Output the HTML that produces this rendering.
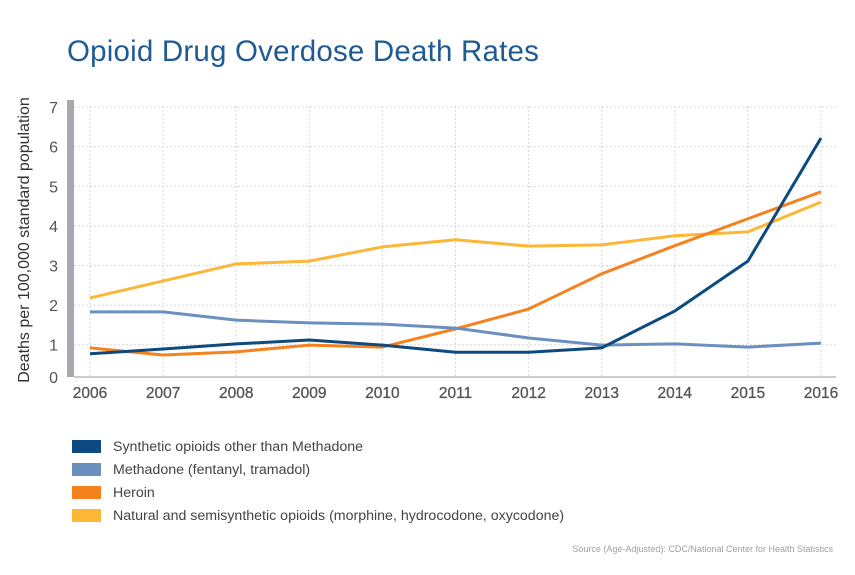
<!DOCTYPE html>
<html><head><meta charset="utf-8"><style>
body{margin:0;background:#fff;font-family:"Liberation Sans",sans-serif;}
svg text{font-family:"Liberation Sans",sans-serif;}
</style></head><body>
<svg width="855" height="570" xmlns="http://www.w3.org/2000/svg">
<text x="67" y="61" font-size="29.5" letter-spacing="0.2" fill="#1f5a93">Opioid Drug Overdose Death Rates</text>
<g id="grid"></g>
<rect x="67" y="100" width="7" height="277" fill="#a7a9ac"/>
<line x1="74" y1="377" x2="836" y2="377" stroke="#bbb" stroke-width="1.5"/>
<g id="yticks"></g>
<g id="xticks"></g>
<text transform="translate(29,240) rotate(-90)" text-anchor="middle" font-size="16" fill="#333">Deaths per 100,000 standard population</text>
<g id="lines"></g>
<g id="legend"></g>
<text x="833" y="552" text-anchor="end" font-size="9" fill="#a0a0a0">Source (Age-Adjusted): CDC/National Center for Health Statistics</text>
</svg>
<script>
const years=[2006,2007,2008,2009,2010,2011,2012,2013,2014,2015,2016];
const yTicks=[0,1,2,3,4,5,6,7];
const seriesNames=["Synthetic opioids other than Methadone","Methadone (fentanyl, tramadol)","Heroin","Natural and semisynthetic opioids (morphine, hydrocodone, oxycodone)"];
const synthetic=[0.77,0.89,1.02,1.12,0.99,0.81,0.81,0.92,1.85,3.11,6.22];
const methadone=[1.83,1.83,1.62,1.55,1.52,1.42,1.17,0.99,1.02,0.94,1.04];
const heroin=[0.92,0.74,0.82,0.99,0.94,1.40,1.90,2.79,3.50,4.18,4.86];
const natural=[2.18,2.61,3.04,3.11,3.47,3.65,3.49,3.52,3.75,3.85,4.60];
const NS="http://www.w3.org/2000/svg";
const xs=i=>90+i*73.1;
const ys=v=>384.3-v*39.6;
function mk(t,a,p){const e=document.createElementNS(NS,t);for(const k in a)e.setAttribute(k,a[k]);p.appendChild(e);return e;}
const grid=document.getElementById('grid'),yt=document.getElementById('yticks'),xt=document.getElementById('xticks');
yTicks.forEach(v=>{
  if(v>0){const l=mk('line',{x1:74,x2:836,y1:ys(v),y2:ys(v),stroke:'#ccc','stroke-dasharray':'1.5,2.5'},grid);
  
  }
  const t=mk('text',{x:58,y:(v===0?377:ys(v))+6,'text-anchor':'end','font-size':'16',fill:'#555'},yt);t.textContent=v;
  
  
});
years.forEach((yr,i)=>{
  const l=mk('line',{x1:xs(i),x2:xs(i),y1:106,y2:377,stroke:'#ccc','stroke-dasharray':'1.5,2.5'},grid);
  
  
  const t=mk('text',{x:xs(i),y:398,'text-anchor':'middle','font-size':'15.5',fill:'#555','stroke':'#555','stroke-width':'0.3'},xt);t.textContent=yr;
  
  
});
const data=[synthetic,methadone,heroin,natural];
const colors=["#0d4a80","#6b8fbf","#f5821f","#fbb735"];
const keys=["synthetic","methadone","heroin","natural"];
const lg=document.getElementById('lines');
[3,2,1,0].forEach(s=>{
  const p=mk('polyline',{points:data[s].map((v,i)=>xs(i)+','+ys(v)).join(' '),fill:'none',stroke:colors[s],'stroke-width':'3','stroke-linejoin':'round'},lg);
  
  
});
const leg=document.getElementById('legend');
seriesNames.forEach((n,s)=>{
  const y=440+s*23;
  const r=mk('rect',{x:72,y:y,width:29,height:13,fill:colors[s]},leg);
  
  
  const t=mk('text',{x:113,y:y+11,'font-size':'14.2',fill:'#444'},leg);t.textContent=n;
  
  
});
</script>
</body></html>
